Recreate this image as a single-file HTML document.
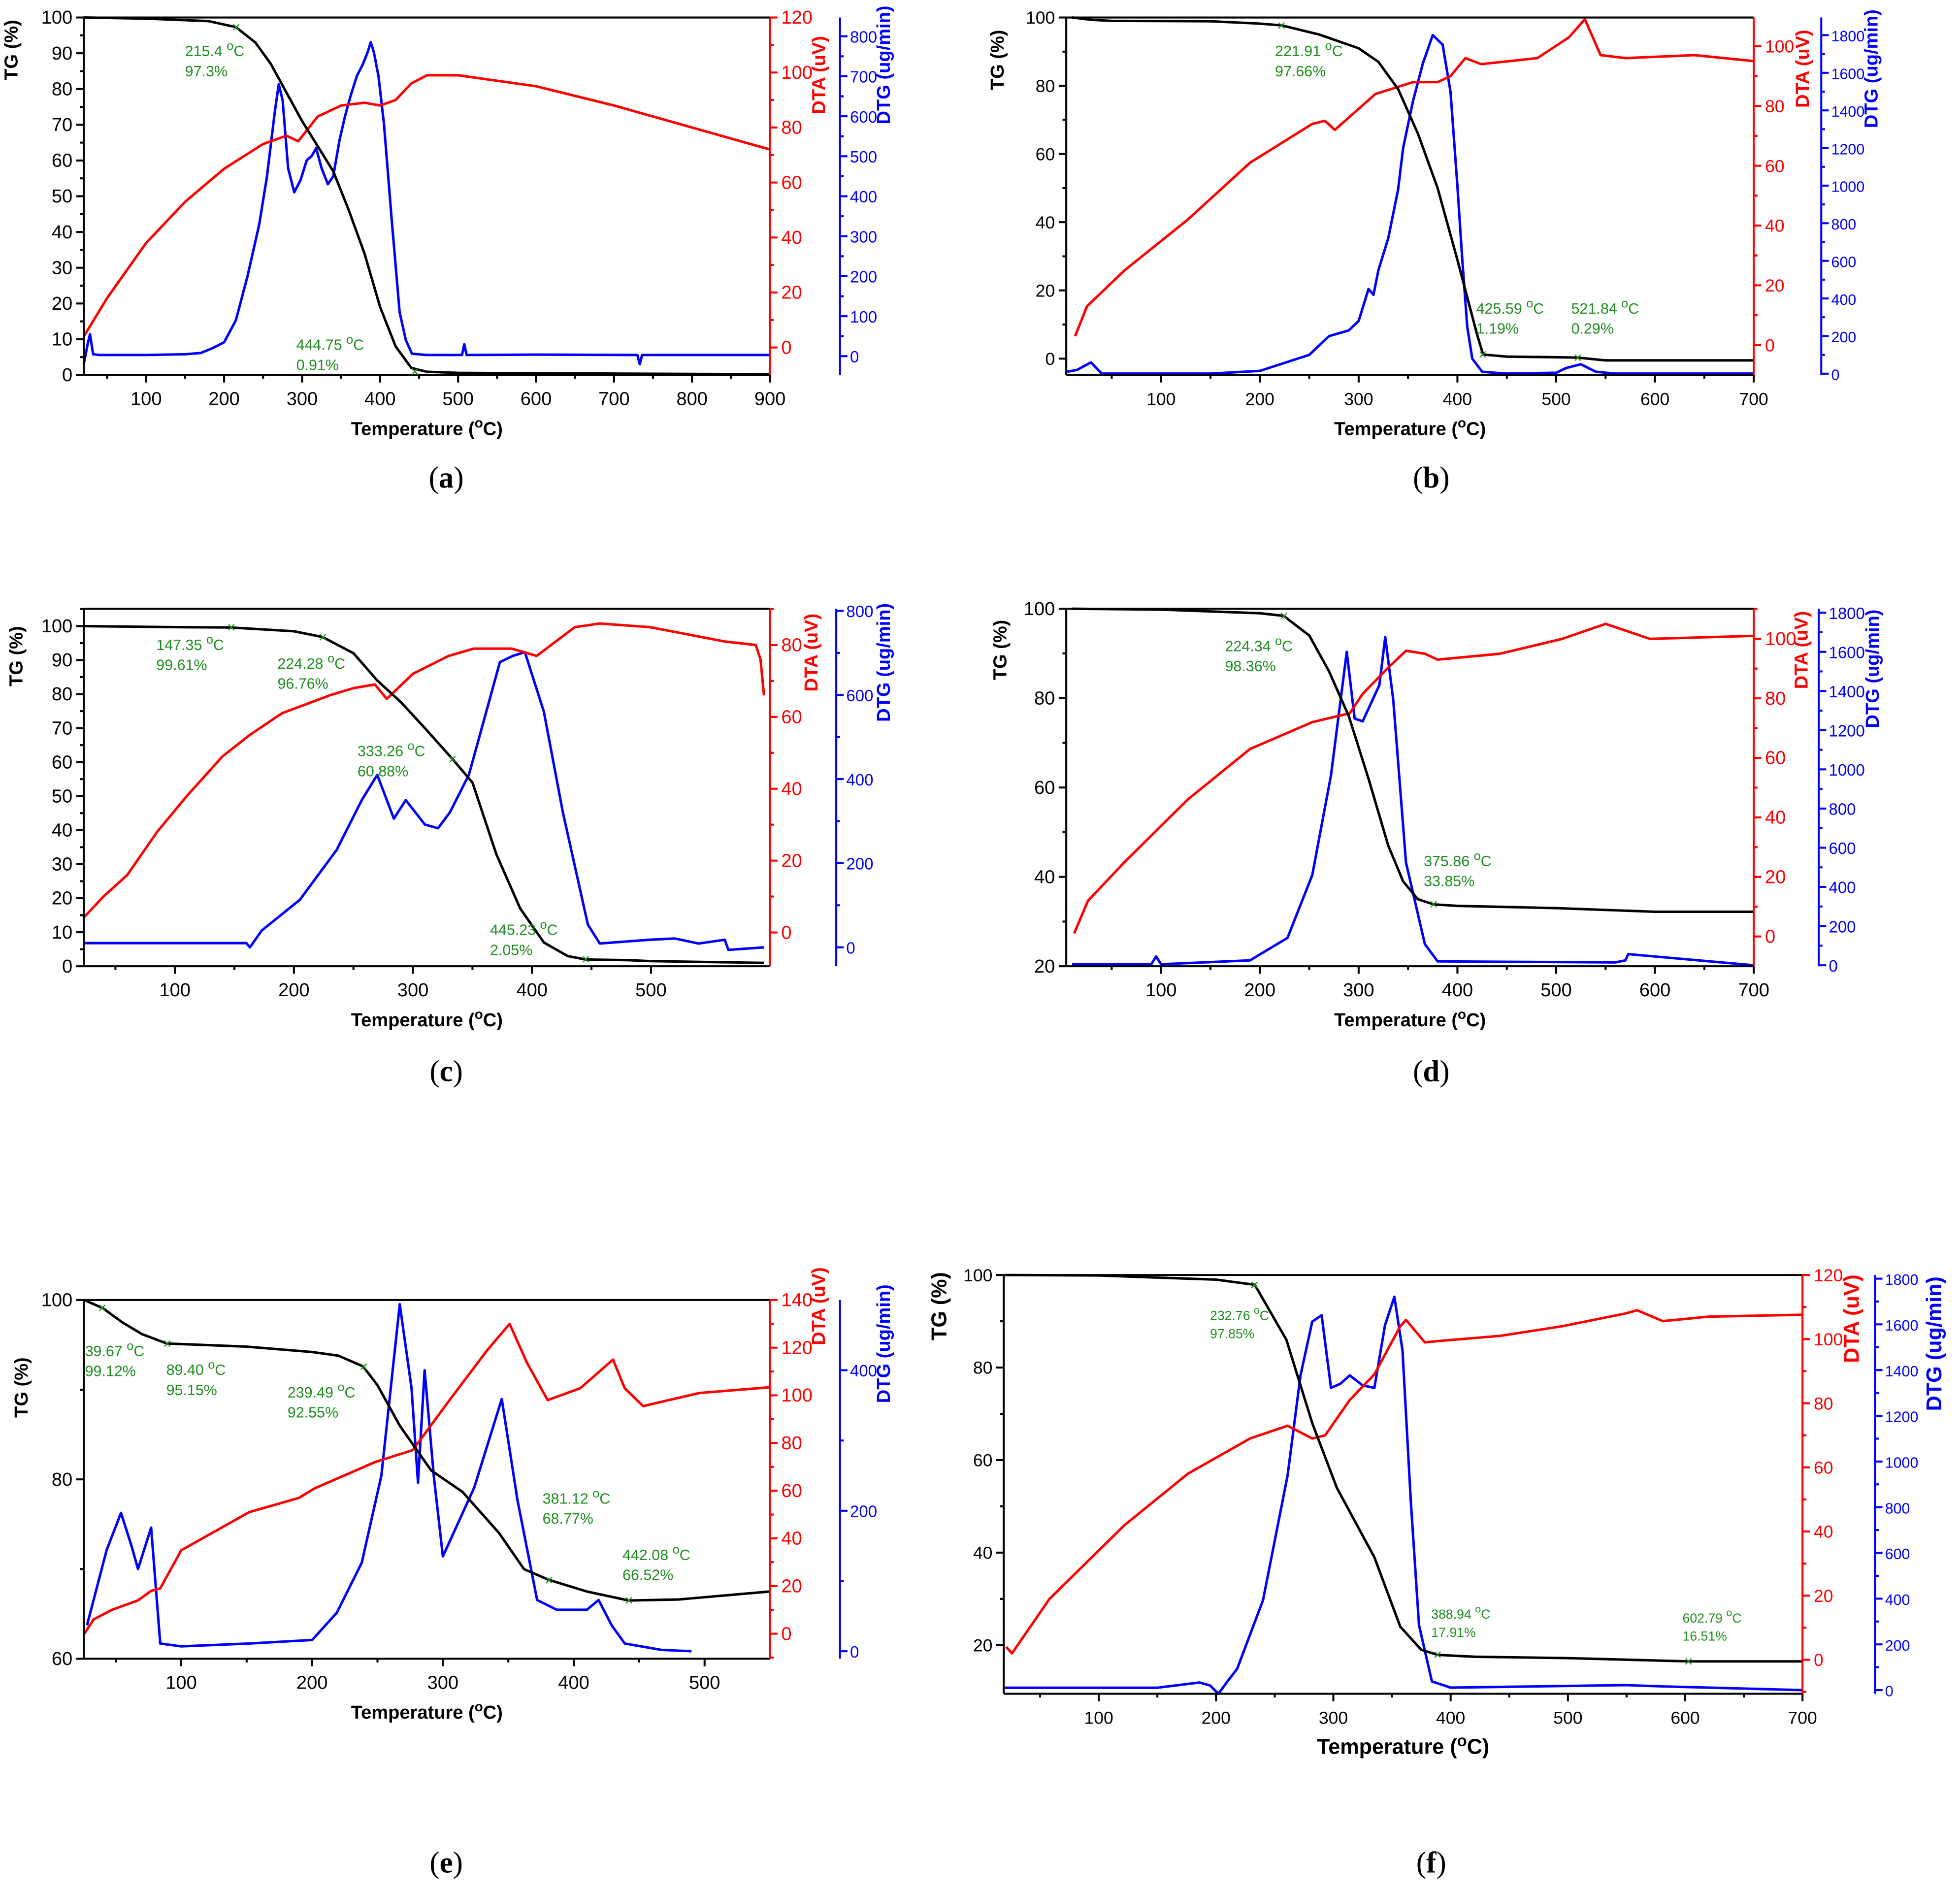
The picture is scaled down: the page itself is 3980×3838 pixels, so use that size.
<!DOCTYPE html>
<html><head><meta charset="utf-8">
<style>
html,body{margin:0;padding:0;background:#fff;}
svg{display:block;font-family:"Liberation Sans",Arial,sans-serif;}
</style></head>
<body>
<svg id="fig" xmlns="http://www.w3.org/2000/svg" width="3980" height="3838" viewBox="0 0 1568 1512" preserveAspectRatio="none"></svg>
<script>
// ---------- Panel (a) ----------
const a_tg_T = [20,100,180,215,240,260,280,300,320,340,360,380,400,420,440,460,500,700,900];
const a_tg_v = [100,99.7,99,97.3,93,87,79,71,64,57,46,34,19,8,2,0.9,0.6,0.4,0.2];
const a_dta_T = [20,50,100,150,200,250,280,295,320,350,380,400,420,440,460,500,600,700,800,900];
const a_dta_v = [4,18,38,53,65,74,77,75,84,88,89,88,90,96,99,99,95,88,80,72];
const a_dtg_T = [20,25,28,32,40,100,150,170,185,200,215,230,245,255,265,270,275,282,290,298,306,312,318,325,333,340,348,355,362,370,378,384,388,392,398,405,415,425,433,441,460,505,508,511,600,730,733,736,900];
const a_dtg_v = [-20,30,55,5,3,3,5,8,20,35,90,200,330,450,610,680,640,470,410,440,490,500,520,470,430,450,540,600,650,700,730,760,785,760,700,580,340,110,40,6,3,3,30,3,4,3,-20,3,3];
// ---------- Panel (b) ----------
const b_tg_T = [10,30,50,150,200,222,260,300,320,340,360,380,400,410,420,426,450,500,522,550,700];
const b_tg_v = [100,99.3,99,98.9,98.2,97.7,95,91,87,79,66,50,29,18,7,1.2,0.6,0.4,0.3,-0.5,-0.5];
const b_dta_T = [13,25,63,127,190,253,266,276,317,355,380,393,408,424,481,513,529,545,570,640,700];
const b_dta_v = [3,13,25,42,61,74,75,72,84,88,88,90,96,94,96,103,109,97,96,97,95];
const b_dtg_T = [5,15,29,40,150,200,250,270,290,300,310,315,320,330,340,345,355,365,375,385,393,400,405,410,415,425,450,500,510,525,540,560,700];
const b_dtg_v = [10,20,60,0,0,15,100,200,230,280,450,420,550,720,980,1200,1450,1650,1800,1750,1500,1000,600,250,80,10,0,5,30,50,10,0,0];
// ---------- Panel (c) ----------
const c_tg_T = [23,100,147,200,224,250,270,290,310,333,350,370,390,410,430,445,480,500,595];
const c_tg_v = [100,99.7,99.6,98.5,96.8,92,84,77.6,70,61,54,33,17,7,3,2,1.8,1.5,1];
const c_dta_T = [23,40,60,85,110,140,163,190,230,250,268,278,300,330,351,383,404,436,457,499,562,588,592,595];
const c_dta_v = [4,10,16,28,38,49,55,61,66,68,69,65,72,77,79,79,77,85,86,85,81,80,76,66];
const c_dtg_T = [23,100,160,163,173,205,236,257,270,284,294,310,321,331,347,363,373,384,394,410,426,447,457,499,520,540,562,565,595];
const c_dtg_v = [10,10,10,0,40,113,232,350,410,306,350,292,283,321,410,574,678,693,702,560,321,54,9,18,21,9,18,-6,0];
// ---------- Panel (d) ----------
const d_tg_T = [10,100,200,224,250,270,290,310,330,345,360,376,400,500,600,700];
const d_tg_v = [100,99.8,99,98.4,94,86,76,62,47,39,35,33.85,33.5,33,32.2,32.2];
const d_dta_T = [12,26,63,127,190,253,291,304,329,348,367,380,443,506,550,595,700];
const d_dta_v = [1,12,25,46,63,72,75,81.5,90,96,95,93,95,100,105,100,101];
const d_dtg_T = [10,90,95,100,190,228,253,272,288,296,304,321,327,335,348,367,380,560,570,573,700];
const d_dtg_v = [5,5,45,5,25,140,460,970,1600,1260,1245,1430,1675,1355,524,108,20,15,25,57,0];
// ---------- Panel (e) ----------
const e_tg_T = [26,40,55,70,89,150,200,220,239,250,267,291,315,343,362,381,410,442,480,550];
const e_tg_v = [100,99.1,97.5,96.2,95.15,94.8,94.2,93.8,92.6,90.5,86,81,78.6,74,70,68.8,67.5,66.5,66.6,67.5];
const e_dta_T = [26,33,47,67,77,84,100,152,190,202,248,277,305,334,351,364,380,405,430,439,453,496,550];
const e_dta_v = [0,6,10,14,18,19,35,51,57,61,72,77,98,119,130,114,98,103,115,103,95.5,101,103.4];
const e_dtg_T = [28,43,54,62,67,77,84,100,152,200,219,238,253,267,276,281,286,293,300,324,345,357,372,387,410,419,429,439,467,490];
const e_dtg_v = [37,144,197,150,117,176,11,7,11,16,55,126,250,494,375,240,400,250,135,233,359,215,73,59,59,73,37,11,2,0];
// ---------- Panel (f) ----------
const f_tg_T = [20,100,200,233,260,282,303,335,357,375,389,420,500,603,700];
const f_tg_v = [100,99.9,99,97.9,86,68,54,39,24,19,17.9,17.5,17.2,16.5,16.5];
const f_dta_T = [21,26,58,122,176,229,261,282,293,314,335,357,362,378,390,442,495,549,559,581,620,700];
const f_dta_v = [4,2,19,42,58,69,73,69,70,81,89,104,106,99,99.4,101,104,108,109,105.6,107,107.6];
const f_dtg_T = [20,150,186,195,202,210,218,240,261,272,282,290,298,306,314,325,335,344,352,359,366,373,384,400,549,580,700];
const f_dtg_v = [10,10,33,20,-16,40,93,393,940,1377,1612,1640,1322,1340,1377,1333,1322,1596,1721,1486,830,284,38,11,22,16,0];
// ---------- tick labels ----------
const a_xticks=[100,200,300,400,500,600,700,800,900], a_tgticks=[0,10,20,30,40,50,60,70,80,90,100], a_dtaticks=[0,20,40,60,80,100,120], a_dtgticks=[0,100,200,300,400,500,600,700,800];
const b_xticks=[100,200,300,400,500,600,700], b_tgticks=[0,20,40,60,80,100], b_dtaticks=[0,20,40,60,80,100], b_dtgticks=[0,200,400,600,800,1000,1200,1400,1600,1800];
const c_xticks=[100,200,300,400,500], c_tgticks=[0,10,20,30,40,50,60,70,80,90,100], c_dtaticks=[0,20,40,60,80], c_dtgticks=[0,200,400,600,800];
const d_xticks=[100,200,300,400,500,600,700], d_tgticks=[20,40,60,80,100], d_dtaticks=[0,20,40,60,80,100], d_dtgticks=[0,200,400,600,800,1000,1200,1400,1600,1800];
const e_xticks=[100,200,300,400,500], e_tgticks=[60,80,100], e_dtaticks=[0,20,40,60,80,100,120,140], e_dtgticks=[0,200,400];
const f_xticks=[100,200,300,400,500,600,700], f_tgticks=[20,40,60,80,100], f_dtaticks=[0,20,40,60,80,100,120], f_dtgticks=[0,200,400,600,800,1000,1200,1400,1600,1800];
// annotations [T, TG, label1, label2, textX, textY]
const a_notes=[[215.4,97.3,'215.4','97.3%',148,45],[444.75,0.91,'444.75','0.91%',237,280]];
const b_notes=[[221.91,97.66,'221.91','97.66%',1020,45],[425.59,1.19,'425.59','1.19%',1181,251],[521.84,0.29,'521.84','0.29%',1257,251]];
const c_notes=[[147.35,99.61,'147.35','99.61%',125,520],[224.28,96.76,'224.28','96.76%',222,535],[333.26,60.88,'333.26','60.88%',286,605],[445.23,2.05,'445.23','2.05%',392,748]];
const d_notes=[[224.34,98.36,'224.34','98.36%',980,521],[375.86,33.85,'375.86','33.85%',1139,693]];
const e_notes=[[39.67,99.12,'39.67','99.12%',68,1085],[89.40,95.15,'89.40','95.15%',133,1100],[239.49,92.55,'239.49','92.55%',230,1118],[381.12,68.77,'381.12','68.77%',434,1203],[442.08,66.52,'442.08','66.52%',498,1248]];
const f_notes=[[232.76,97.85,'232.76','97.85%',968,1056],[388.94,17.91,'388.94','17.91%',1145,1295],[602.79,16.51,'602.79','16.51%',1346,1298]];

const NS='http://www.w3.org/2000/svg';
const svg=document.getElementById('fig');
function mk(tag,attrs,parent){const e=document.createElementNS(NS,tag);for(const k in attrs)e.setAttribute(k,attrs[k]);(parent||svg).appendChild(e);return e;}

const panels=[
 {id:'a',x0:67,x1:616,t0:20,t1:900,y0:14,y1:300,tg:[100,0],dta:[120,-10],dtg:[847,-47],redX:616,blueX:672,
  xt:a_xticks,tgt:a_tgticks,dtat:a_dtaticks,dtgt:a_dtgticks,s:[a_tg_T,a_tg_v,a_dta_T,a_dta_v,a_dtg_T,a_dtg_v],notes:a_notes,
  tgTitle:[14,40],dtaTitle:[660,60],dtgTitle:[712,52],fs:15,cap:[357,390],nfs:12},
 {id:'b',x0:853,x1:1403,t0:4,t1:700,y0:14,y1:300,tg:[100,-4.8],dta:[109.6,-10],dtg:[1894,-7],redX:1403,blueX:1457,
  xt:b_xticks,tgt:b_tgticks,dtat:b_dtaticks,dtgt:b_dtgticks,s:[b_tg_T,b_tg_v,b_dta_T,b_dta_v,b_dtg_T,b_dtg_v],notes:b_notes,
  tgTitle:[803,48],dtaTitle:[1447,55],dtgTitle:[1502,55],fs:14,cap:[1145,390],nfs:12},
 {id:'c',x0:67,x1:616,t0:23.4,t1:600,y0:487,y1:773,tg:[105.1,0],dta:[90.1,-9.4],dtg:[805,-45],redX:616,blueX:669,
  xt:c_xticks,tgt:c_tgticks,dtat:c_dtaticks,dtgt:c_dtgticks,s:[c_tg_T,c_tg_v,c_dta_T,c_dta_v,c_dtg_T,c_dtg_v],notes:c_notes,
  tgTitle:[18,525],dtaTitle:[654,522],dtgTitle:[712,530],fs:15,cap:[357,865],nfs:12},
 {id:'d',x0:853,x1:1403,t0:4,t1:700,y0:487,y1:773,tg:[100,20],dta:[110.1,-10],dtg:[1820,-5],redX:1403,blueX:1455,
  xt:d_xticks,tgt:d_tgticks,dtat:d_dtaticks,dtgt:d_dtgticks,s:[d_tg_T,d_tg_v,d_dta_T,d_dta_v,d_dtg_T,d_dtg_v],notes:d_notes,
  tgTitle:[805,520],dtaTitle:[1446,520],dtgTitle:[1503,535],fs:15,cap:[1145,865],nfs:12},
 {id:'e',x0:67,x1:616,t0:25.5,t1:550,y0:1040,y1:1327,tg:[100,60],dta:[140,-10.5],dtg:[500,-10.7],redX:616,blueX:672,
  xt:e_xticks,tgt:e_tgticks,dtat:e_dtaticks,dtgt:e_dtgticks,s:[e_tg_T,e_tg_v,e_dta_T,e_dta_v,e_dtg_T,e_dtg_v],notes:e_notes,
  tgTitle:[22,1110],dtaTitle:[660,1045],dtgTitle:[712,1075],fs:15,cap:[357,1498],nfs:12},
 {id:'f',x0:803,x1:1442,t0:19,t1:700,y0:1020,y1:1355,tg:[100,9.5],dta:[120,-10.6],dtg:[1816,-16],redX:1442,blueX:1500,
  xt:f_xticks,tgt:f_tgticks,dtat:f_dtaticks,dtgt:f_dtgticks,s:[f_tg_T,f_tg_v,f_dta_T,f_dta_v,f_dtg_T,f_dtg_v],notes:f_notes,
  tgTitle:[757,1045],dtaTitle:[1487,1055],dtgTitle:[1553,1075],fs:14,cap:[1145,1498],nfs:10.5,bigTitle:true}
];

function drawPanel(p){
  const g=mk('g',{});
  
  
  const X=T=>p.x0+(T-p.t0)/(p.t1-p.t0)*(p.x1-p.x0);
  const Y=(v,r)=>p.y0+(r[0]-v)/(r[0]-r[1])*(p.y1-p.y0);
  const line=(x1,y1,x2,y2,c,w)=>mk('line',{x1,y1,x2,y2,stroke:c,'stroke-width':w||1.6},g);
  const txt=(x,y,s,attrs)=>{const t=mk('text',Object.assign({x,y,'font-size':p.fs},attrs||{}),g);t.textContent=s;return t;};
  const colors=['#000000','#ff0000','#0000ff'], ranges=[p.tg,p.dta,p.dtg], names=['tg-curve','dta-curve','dtg-curve'];
  for(let i=2;i>=0;i--){
    const Ts=p.s[i*2], Vs=p.s[i*2+1];
    const pts=Ts.map((T,k)=>X(T).toFixed(1)+','+Y(Vs[k],ranges[i]).toFixed(1)).join(' ');
    const pl=mk('polyline',{points:pts,fill:'none',stroke:colors[i],'stroke-width':2,'stroke-linejoin':'round'},g);
    
    
  }
  line(p.x0,p.y0,p.x0,p.y1,'#000');
  line(p.x0,p.y1,p.x1,p.y1,'#000');
  line(p.x0,p.y0,p.x1,p.y0,'#000');
  line(p.redX,p.y0,p.redX,p.y1,'#ff0000');
  line(p.blueX,p.y0,p.blueX,p.y1,'#0000ff');
  const xs=p.xt[1]-p.xt[0];
  for(const T of p.xt){const x=X(T);line(x,p.y1,x,p.y1+6,'#000');
    const t=txt(x,p.y1+24,String(T),{'text-anchor':'middle'});
    
    
    const m=X(T-xs/2); if(m>p.x0) line(m,p.y1,m,p.y1+3,'#000');}
  const ts=p.tgt[1]-p.tgt[0];
  for(const v of p.tgt){const y=Y(v,p.tg);line(p.x0-6,y,p.x0,y,'#000');
    const t=txt(p.x0-9,y+5,String(v),{'text-anchor':'end'});
    
    
    const m=Y(v+ts/2,p.tg); if(m>p.y0) line(p.x0-3,m,p.x0,m,'#000');}
  const ds=p.dtat[1]-p.dtat[0];
  for(const v of p.dtat){const y=Y(v,p.dta);line(p.redX,y,p.redX+6,y,'#ff0000');
    const t=txt(p.redX+9,y+5,String(v),{fill:'#ff0000'});
    
    
    for(const m of [Y(v+ds/2,p.dta),Y(v-ds/2,p.dta)]) if(m>p.y0&&m<p.y1) line(p.redX,m,p.redX+3,m,'#ff0000');}
  const gs=p.dtgt[1]-p.dtgt[0];
  for(const v of p.dtgt){const y=Y(v,p.dtg);line(p.blueX,y,p.blueX+6,y,'#0000ff');
    const t=txt(p.blueX+8,y+5,String(v),{fill:'#0000ff','font-size':p.fs-2});
    
    
    const m=Y(v+gs/2,p.dtg); if(m>p.y0) line(p.blueX,m,p.blueX+3,m,'#0000ff');}
  const tfs=p.bigTitle?17:15;
  const rot=(pos,s,c,nm)=>{const t=mk('text',{x:pos[0],y:pos[1],transform:`rotate(-90 ${pos[0]} ${pos[1]})`,'text-anchor':'middle','font-weight':'bold','font-size':tfs,fill:c},g);t.textContent=s;
    
    };
  rot(p.tgTitle,'TG (%)','#000','tg-axis-title');
  rot(p.dtaTitle,'DTA (uV)','#ff0000','dta-axis-title');
  rot(p.dtgTitle,'DTG (ug/min)','#0000ff','dtg-axis-title');
  const xt=mk('text',{x:(p.x0+p.x1)/2,y:p.y1+48,'text-anchor':'middle','font-weight':'bold','font-size':tfs},g);
  
  
  xt.innerHTML='Temperature (<tspan dy="-6" font-size="'+(tfs-4)+'">o</tspan><tspan dy="6">C)</tspan>';
  const cp=mk('text',{x:p.cap[0],y:p.cap[1],'text-anchor':'middle','font-size':24,'font-family':'"Liberation Serif",serif'},g);
  
  
  cp.innerHTML='(<tspan font-weight="bold">'+p.id+'</tspan>)';
  for(const n of p.notes){
    const x=X(n[0]),y=Y(n[1],p.tg);
    const mkr=mk('text',{x:x,y:y+4,'text-anchor':'middle','font-size':12,fill:'#1f8f1f'},g);
    mkr.textContent='×';
    
    
    const t1=mk('text',{x:n[4],y:n[5],'font-size':p.nfs,fill:'#1f8f1f'},g);
    t1.innerHTML=n[2]+' <tspan dy="-5" font-size="'+(p.nfs-2)+'">o</tspan><tspan dy="5">C</tspan>';
    
    
    const t2=mk('text',{x:n[4],y:n[5]+(p.nfs+4),'font-size':p.nfs,fill:'#1f8f1f'},g);
    t2.textContent=n[3];
    
    
  }
}
panels.forEach(drawPanel);
</script>
</body></html>
